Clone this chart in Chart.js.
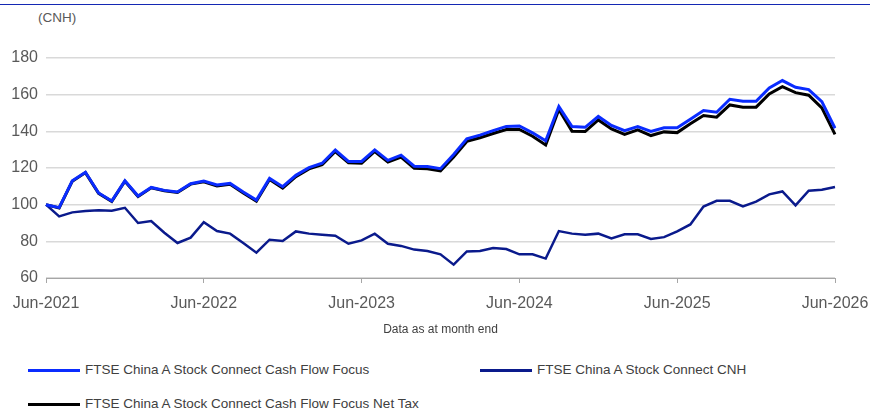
<!DOCTYPE html>
<html>
<head>
<meta charset="utf-8">
<script src="https://cdn.jsdelivr.net/npm/chart.js@4"></script>
<style>
  html, body { margin: 0; padding: 0; background: #fff; overflow: hidden; }
  body { width: 870px; height: 408px; position: relative; font-family: "Liberation Sans", Arial, sans-serif; }
  #topRule { position: absolute; left: 0; top: 4px; width: 870px; height: 0; border-top: 1.5px solid #1428b4; }
  #unit { position: absolute; left: 38px; top: 10px; font-size: 13.5px; color: #595959; }
  #chart { position: absolute; left: 0; top: 0; }
  .legend-item { position: absolute; height: 16px; font-size: 13.5px; color: #404040; white-space: nowrap; }
  .legend-item .swatch { position: absolute; left: 0; top: 7px; width: 52px; height: 3px; }
  .legend-item .label { position: absolute; left: 57px; top: 0; line-height: 16px; }
</style>
</head>
<body>
<div id="topRule"></div>
<div id="unit">(CNH)</div>
<canvas id="chart" width="870" height="345"></canvas>
<div id="legend"></div>
<script>
  // monthly index levels, Jun-2021 .. Jun-2026
  const seriesNames = [
    'FTSE China A Stock Connect Cash Flow Focus',
    'FTSE China A Stock Connect CNH',
    'FTSE China A Stock Connect Cash Flow Focus Net Tax'
  ];

  const cashFlowFocus = [
    100, 98.4, 113.0, 117.7, 106.4, 102.0, 113.0, 104.7, 109.4, 107.8,
    106.9, 111.4, 112.9, 110.7, 111.6, 106.9, 102.5, 114.3, 109.8, 116.0,
    120.2, 122.6, 129.8, 123.6, 123.6, 129.9, 124.2, 127.0, 121.0, 120.8,
    119.6, 127.4, 135.9, 137.9, 140.4, 142.7, 142.9, 139.2, 134.8, 153.5,
    142.6, 142.2, 148.1, 143.2, 140.4, 142.6, 139.9, 141.9, 141.9, 146.6,
    151.3, 150.4, 157.5, 156.4, 156.4, 163.7, 167.7, 164.0, 162.8, 156.2,
    141.7
  ];

  const stockConnectCNH = [
    100, 93.6, 95.8, 96.5, 97.0, 96.7, 98.3, 90.0, 91.1, 84.7,
    79.1, 82.0, 90.4, 85.6, 84.2, 79.1, 73.8, 80.9, 80.2, 85.4,
    84.2, 83.6, 83.1, 78.7, 80.5, 84.2, 78.7, 77.5, 75.5, 74.7,
    72.9, 67.3, 74.5, 74.7, 76.4, 75.8, 72.9, 72.9, 70.6, 85.6,
    84.2, 83.6, 84.2, 81.6, 83.8, 83.8, 81.3, 82.3, 85.4, 89.2,
    99.0, 102.1, 102.1, 99.0, 101.7, 105.6, 107.2, 99.6, 107.6, 108.1,
    109.6
  ];

  const cashFlowFocusNetTax = [
    100, 98.2, 112.8, 117.5, 106.2, 101.8, 112.8, 104.5, 109.2, 107.6,
    106.7, 111.2, 112.5, 110.2, 111.1, 106.4, 101.9, 113.7, 109.0, 115.3,
    119.5, 121.8, 129.0, 122.8, 122.6, 129.0, 123.2, 126.0, 119.8, 119.6,
    118.4, 126.0, 134.5, 136.5, 138.8, 141.0, 141.0, 137.3, 132.6, 151.9,
    140.1, 139.9, 146.2, 141.3, 138.3, 140.8, 137.7, 139.7, 139.3, 144.1,
    148.6, 147.7, 154.4, 153.2, 153.2, 160.4, 164.4, 161.1, 159.7, 152.8,
    138.3
  ];

  const monthNames = ['Jan', 'Feb', 'Mar', 'Apr', 'May', 'Jun', 'Jul', 'Aug', 'Sep', 'Oct', 'Nov', 'Dec'];
  const months = [];
  for (let i = 0; i < cashFlowFocus.length; i++) {
    const m = (5 + i) % 12;
    const y = 2021 + Math.floor((5 + i) / 12);
    months.push(monthNames[m] + '-' + y);
  }

  const yTicks = [60, 80, 100, 120, 140, 160, 180];
  const xTitle = 'Data as at month end';

  const colors = ['#0a2cff', '#0a1a8c', '#000000'];
  const widths = [3, 2.5, 3];

  Chart.defaults.font.family = '"Liberation Sans", Arial, sans-serif';

  const ctx = document.getElementById('chart').getContext('2d');
  new Chart(ctx, {
    type: 'line',
    data: {
      labels: months,
      datasets: [cashFlowFocus, stockConnectCNH, cashFlowFocusNetTax].map(function (vals, i) {
        return {
          label: seriesNames[i],
          data: vals,
          borderColor: colors[i],
          backgroundColor: colors[i],
          borderWidth: widths[i],
          pointRadius: 0,
          tension: 0,
          fill: false
        };
      })
    },
    options: {
      responsive: false,
      animation: false,
      layout: { padding: { top: 58, right: 35, left: 0, bottom: 0 } },
      plugins: { legend: { display: false }, tooltip: { enabled: false } },
      scales: {
        x: {
          afterFit: function (s) {
            s.height = 67;
            s.paddingLeft = 0;
            s.paddingRight = 0;
          },
          grid: { drawOnChartArea: false, drawTicks: true, tickLength: 5, color: '#a6a6a6' },
          border: { display: true, color: '#a6a6a6', width: 1 },
          ticks: {
            autoSkip: false,
            maxRotation: 0,
            padding: 11,
            color: '#595959',
            font: { size: 16 },
            callback: function (v, i) { return i % 12 === 0 ? months[i] : null; }
          },
          title: {
            display: true,
            text: xTitle,
            color: '#404040',
            font: { size: 12 },
            padding: { top: 0, bottom: 8 }
          }
        },
        y: {
          min: yTicks[0],
          max: yTicks[yTicks.length - 1],
          afterFit: function (s) { s.width = 46; },
          afterBuildTicks: function (s) { s.ticks = yTicks.map(function (v) { return { value: v }; }); },
          grid: { color: '#d9d9d9', lineWidth: 1.5, drawTicks: false },
          border: { display: false },
          ticks: { padding: 8, color: '#595959', font: { size: 16 } }
        }
      }
    }
  });

  // legend laid out in two columns like the source
  const legendPos = [[28, 362], [480, 362], [28, 396]];
  const legend = document.getElementById('legend');
  seriesNames.forEach(function (name, i) {
    const item = document.createElement('div');
    item.className = 'legend-item';
    item.style.left = legendPos[i][0] + 'px';
    item.style.top = legendPos[i][1] + 'px';
    const sw = document.createElement('span');
    sw.className = 'swatch';
    sw.style.background = colors[i];
    const lb = document.createElement('span');
    lb.className = 'label';
    lb.textContent = name;
    item.appendChild(sw);
    item.appendChild(lb);
    legend.appendChild(item);
  });
</script>
</body>
</html>
